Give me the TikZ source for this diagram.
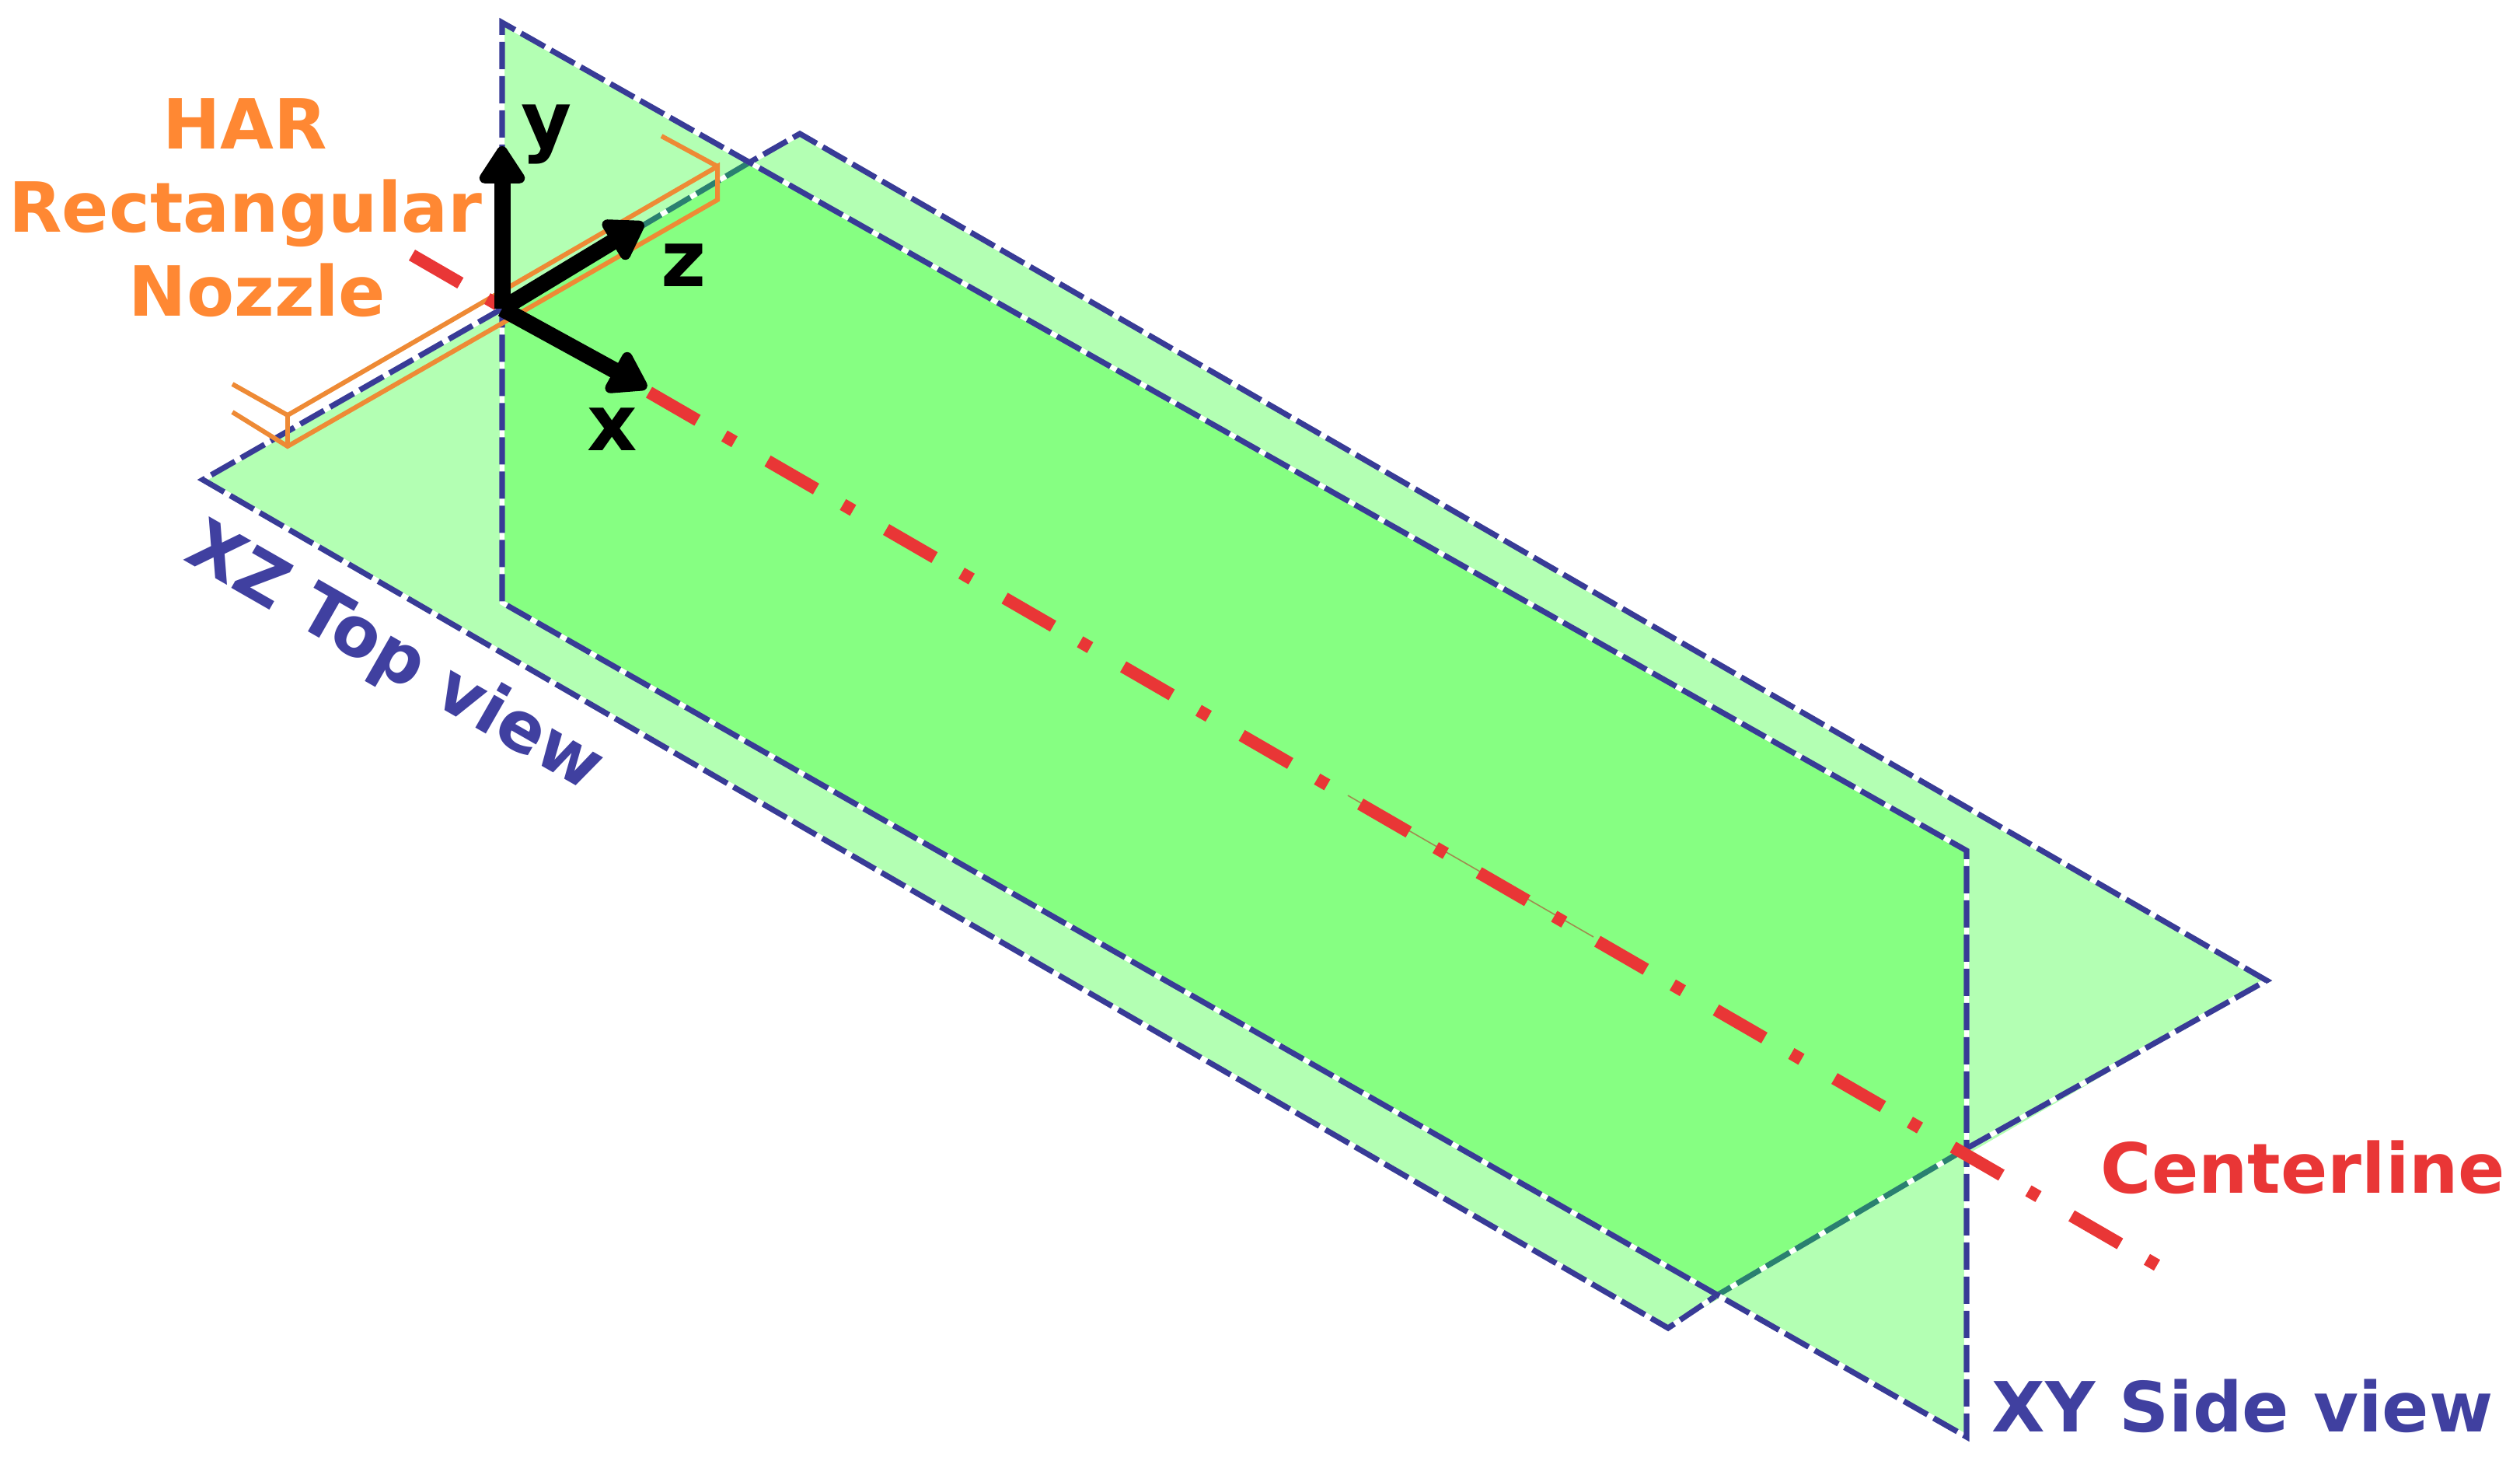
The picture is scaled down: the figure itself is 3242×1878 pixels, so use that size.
\documentclass[tikz,border=0pt]{standalone}
\usepackage{fontspec}
\setmainfont{DejaVu Sans}[BoldFont={DejaVu Sans Bold}]
\usetikzlibrary{arrows.meta}
\definecolor{lightg}{HTML}{B3FFB3}
\definecolor{darkg}{HTML}{86FF82}
\definecolor{navyedge}{HTML}{383B96}
\definecolor{tealedge}{HTML}{2A8070}
\definecolor{redline}{HTML}{E93636}
\definecolor{nozzleline}{HTML}{EE8A35}
\definecolor{nozzletext}{HTML}{FF8833}
\definecolor{viewtext}{HTML}{4040A0}
\definecolor{thinline}{HTML}{A08A50}
\tikzset{
  edgeline/.style={line width=3.6pt,line cap=butt,dash pattern=on 17.5pt off 4.5pt,preaction={draw=white,solid,line width=3.2pt}},
  navyline/.style={edgeline,draw=navyedge},
  tealline/.style={edgeline,draw=tealedge},
  nozzle/.style={draw=nozzleline,line width=3pt},
  axisarrow/.style={draw=black,line width=10.5pt,-{Triangle[length=27pt,width=33pt,round]}},
  nozzlelabel/.style={font=\bfseries\fontsize{44.5pt}{50pt}\selectfont,text=nozzletext,anchor=base,inner sep=0pt},
  axislabel/.style={font=\bfseries\fontsize{50pt}{55pt}\selectfont,text=black,anchor=base,inner sep=0pt},
  viewlabel/.style={font=\bfseries\fontsize{44.5pt}{50pt}\selectfont,text=viewtext,anchor=base,inner sep=0pt},
  centerlabel/.style={font=\bfseries\fontsize{44.5pt}{50pt}\selectfont,text=redline,anchor=base,inner sep=0pt},
  centerdash/.style={draw=redline,line width=8pt,dash pattern=on 36pt off 20pt on 7.5pt off 24.6pt}
}
\begin{document}
\begin{tikzpicture}[x=0.5pt,y=-0.5pt]
\useasboundingbox (0,0) rectangle (3242,1878);
% planes
\coordinate (zl) at (261,617);
\coordinate (zt) at (1029,172);
\coordinate (zr) at (2916,1261);
\coordinate (zb) at (2146,1708);
\coordinate (sa) at (646,29);
\coordinate (sb) at (2530,1094);
\coordinate (sc) at (2530,1848);
\coordinate (sd) at (646,775);
\coordinate (o) at (646,397);
\coordinate (ap) at (964,209);
\coordinate (cr) at (2530,1477);
\coordinate (cb) at (2207,1667);
\fill[lightg] (zl) -- (zt) -- (zr) -- (zb) -- cycle;
\fill[lightg] (sa) -- (sb) -- (sc) -- (sd) -- cycle;
\fill[darkg] (o) -- (ap) -- (sb) -- (cr) -- (cb) -- (sd) -- cycle;
% plane edges
\draw[navyline] (o) -- (zl) -- (zb) -- (cb);
\draw[navyline] (cr) -- (zr) -- (zt) -- (ap);
\draw[tealline] (ap) -- (o);
\draw[tealline] (cr) -- (cb);
\draw[navyline] (o) -- (sa) -- (sb) -- (sc) -- (sd) -- (o);
% nozzle
\coordinate (n1) at (370,534);
\coordinate (n2) at (370,574);
\coordinate (n3) at (923,214);
\coordinate (n4) at (923,257);
\coordinate (t1) at (299,494);
\coordinate (t2) at (299,530);
\coordinate (t3) at (851,175);
\draw[nozzle] (t1) -- (n1) -- (n3) -- (n4) -- (n2) -- (t2);
\draw[nozzle] (n1) -- (n2);
\draw[nozzle] (t3) -- (n3);
% centerline
\coordinate (c0) at (530,328);
\coordinate (c1) at (2785,1633);
\coordinate (th0) at (1734,1023);
\coordinate (th1) at (2050,1205);
\draw[thinline,line width=0.8pt] (th0) -- (th1);
\draw[centerdash] (c0) -- (c1);
% axes
\coordinate (ay) at (646,188);
\coordinate (az) at (828,287);
\coordinate (ax) at (832,499);
\draw[axisarrow] (o) -- (ay);
\draw[axisarrow] (o) -- (az);
\draw[axisarrow] (o) -- (ax);
\node[axislabel] (ly) at (703,190) {y};
\node[axislabel] (lz) at (880,368) {z};
\node[axislabel] (lx) at (788,579) {x};
% labels
\node[nozzlelabel] (har) at (315,192) {HAR};
\node[nozzlelabel] (rect) at (316,299) {Rectangular};
\node[nozzlelabel] (noz) at (331,406) {Nozzle};
\node[centerlabel] (cl) at (2963,1534) {Centerline};
\node[viewlabel] (xy) at (2885,1841) {XY Side view};
\node[viewlabel,rotate=-29.8] (xz) at (495,869) {XZ Top view};
\end{tikzpicture}
\end{document}
